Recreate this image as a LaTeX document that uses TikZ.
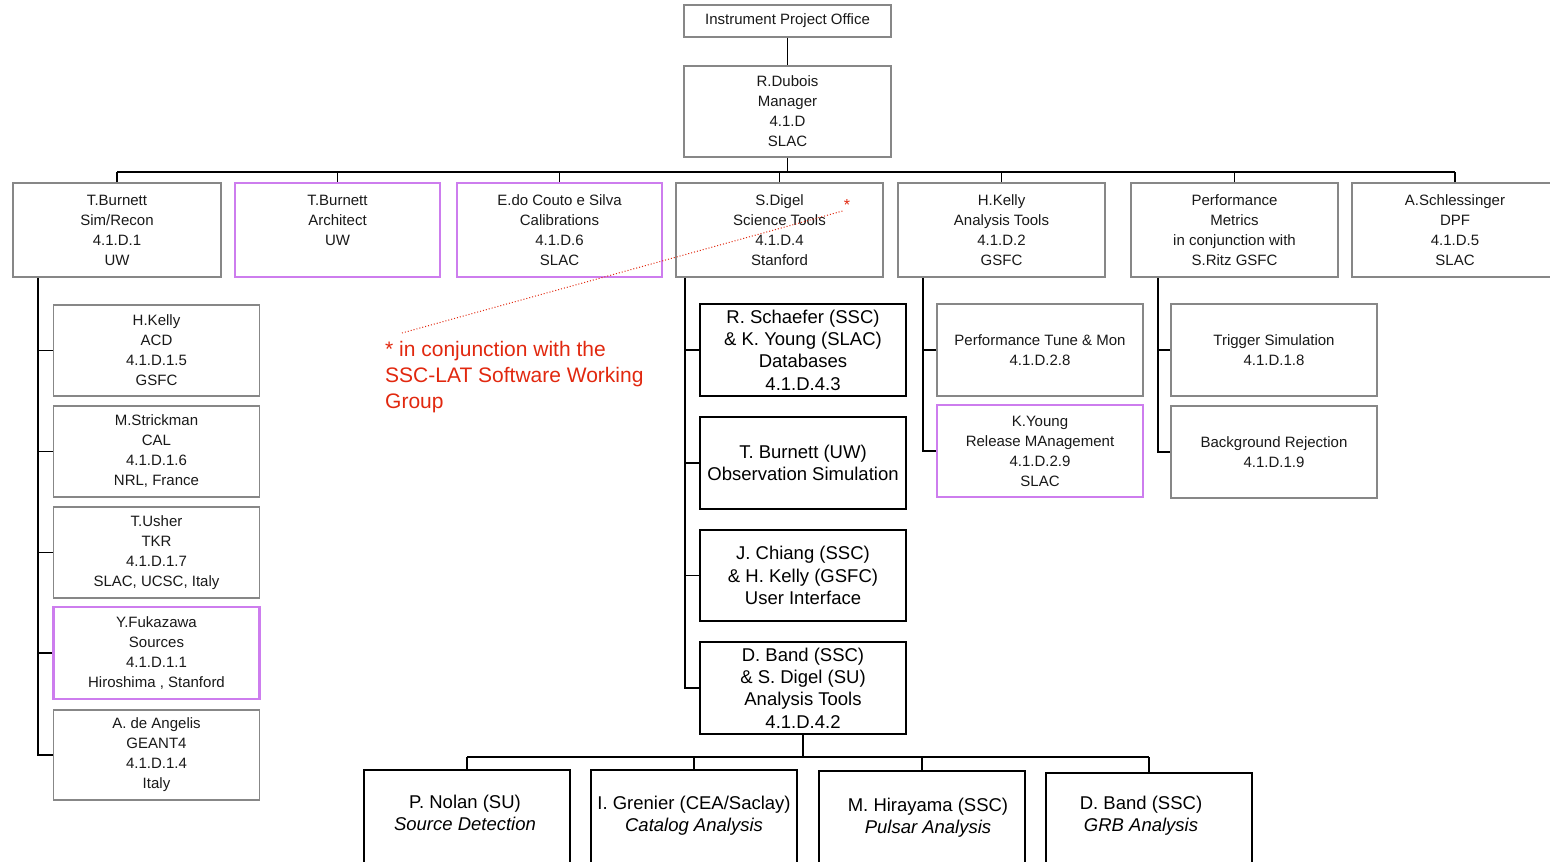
\documentclass[tikz,border=0pt]{standalone}
\usepackage{fontspec}
\setmainfont{Liberation Sans}
\definecolor{boxgray}{RGB}{135,135,135}
\definecolor{vio}{RGB}{205,125,238}
\definecolor{txtgray}{RGB}{25,25,25}
\definecolor{annred}{RGB}{225,40,15}
\begin{document}
\begin{tikzpicture}[x=1pt,y=-1pt,
  obox/.style={draw=boxgray, line width=1.8pt, fill=white, inner sep=0pt, align=center,
    text=txtgray, font=\fontsize{15}{20}\selectfont},
  vbox/.style={obox, draw=vio, line width=2.8pt},
  nbox/.style={draw=black, line width=1.6pt, fill=white, inner sep=0pt, align=center,
    font=\fontsize{18.5}{22.3}\selectfont},
  btxt/.style={inner sep=0pt, align=center, font=\fontsize{18.5}{22.3}\selectfont},
  conn/.style={draw=black, line width=1.8pt},
  topsz/.style={minimum width=#1, minimum height=94pt},
  subsz/.style={minimum width=206pt, minimum height=#1},
]
\useasboundingbox (0,0) rectangle (1550,862);

% top
\node[obox, minimum width=207pt, minimum height=32pt] (ipo) at (787.5,21) {Instrument Project Office};
\node[obox, minimum width=207pt, minimum height=91pt] (dub) at (787.5,111.5) {R.Dubois\\Manager\\4.1.D\\SLAC};

% first row
\node[obox, topsz=208pt] (t1) at (117,230) {T.Burnett\\Sim/Recon\\4.1.D.1\\UW};
\node[vbox, topsz=205pt] (t2) at (337.5,230) {T.Burnett\\Architect\\UW\\\mbox{}};
\node[vbox, topsz=205pt] (t3) at (559.5,230) {E.do Couto e Silva\\Calibrations\\4.1.D.6\\SLAC};
\node[obox, topsz=207pt] (t4) at (779.5,230) {S.Digel\\Science Tools\\4.1.D.4\\Stanford};
\node[obox, topsz=207pt] (t5) at (1001.5,230) {H.Kelly\\Analysis Tools\\4.1.D.2\\GSFC};
\node[obox, topsz=207pt] (t6) at (1234.5,230) {Performance\\Metrics\\in conjunction with\\S.Ritz GSFC};
\node[obox, topsz=206pt] (t7) at (1455,230) {A.Schlessinger\\DPF\\4.1.D.5\\SLAC};

\coordinate (bar) at (0,172);
\draw[conn] (ipo.south) -- (dub.north);
\draw[conn] (dub.south) -- (dub.south |- bar);
\draw[conn] (t1.north |- bar) -- (t7.north |- bar);
\foreach \n in {t1,t2,t3,t4,t5,t6,t7} \draw[conn] (\n.north) -- (\n.north |- bar);

% Sim/Recon children
\node[obox, subsz=91pt] (l1) at (156.5,350.5) {H.Kelly\\ACD\\4.1.D.1.5\\GSFC};
\node[obox, subsz=91pt] (l2) at (156.5,451.5) {M.Strickman\\CAL\\4.1.D.1.6\\NRL, France};
\node[obox, subsz=91pt] (l3) at (156.5,552.5) {T.Usher\\TKR\\4.1.D.1.7\\SLAC, UCSC, Italy};
\node[vbox, subsz=92pt] (l4) at (156.5,653) {Y.Fukazawa\\Sources\\4.1.D.1.1\\Hiroshima , Stanford};
\node[obox, subsz=90pt] (l5) at (156.5,755) {A. de Angelis\\GEANT4\\4.1.D.1.4\\Italy};
\coordinate (sL) at (38,0);
\draw[conn] (t1.south -| sL) |- (l5.west);
\foreach \n in {l1,l2,l3,l4} \draw[conn] (\n.west) -- (\n.west -| sL);

% Science Tools children
\node[nbox, subsz=92pt] (s1) at (803,350) {R. Schaefer (SSC)\\\& K. Young (SLAC)\\Databases\\4.1.D.4.3};
\node[nbox, subsz=92pt] (s2) at (803,463) {T. Burnett (UW)\\Observation Simulation};
\node[nbox, subsz=91pt] (s3) at (803,575.5) {J. Chiang (SSC)\\\& H. Kelly (GSFC)\\User Interface};
\node[nbox, subsz=92pt] (s4) at (803,688) {D. Band (SSC)\\\& S. Digel (SU)\\Analysis Tools\\4.1.D.4.2};
\coordinate (sS) at (685,0);
\draw[conn] (t4.south -| sS) |- (s4.west);
\foreach \n in {s1,s2,s3} \draw[conn] (\n.west) -- (\n.west -| sS);

% Analysis Tools children
\node[obox, subsz=92pt] (k1) at (1040,350) {Performance Tune \& Mon\\4.1.D.2.8};
\node[vbox, subsz=92pt] (k2) at (1040,451) {K.Young\\Release MAnagement\\4.1.D.2.9\\SLAC};
\coordinate (sK) at (923,0);
\draw[conn] (t5.south -| sK) |- (k2.west);
\draw[conn] (k1.west) -- (k1.west -| sK);

% Performance Metrics children
\node[obox, subsz=92pt] (p1) at (1274,350) {Trigger Simulation\\4.1.D.1.8};
\node[obox, subsz=92pt] (p2) at (1274,452) {Background Rejection\\4.1.D.1.9};
\coordinate (sP) at (1158,0);
\draw[conn] (t6.south -| sP) |- (p2.west);
\draw[conn] (p1.west) -- (p1.west -| sP);

% bottom row
\node[nbox, minimum width=206pt, minimum height=120pt] (b1) at (467,830) {};
\node[nbox, minimum width=206pt, minimum height=120pt] (b2) at (694,830) {};
\node[nbox, minimum width=206pt, minimum height=119pt] (b3) at (922,830.5) {};
\node[nbox, minimum width=206pt, minimum height=117pt] (b4) at (1149,831.5) {};
\node[btxt] (b1t) at (465,813) {P. Nolan (SU)\\\textit{Source Detection}};
\node[btxt] (b2t) at (694,816) {I. Grenier (CEA/Saclay)\\\textit{Catalog Analysis}};
\node[btxt] (b3t) at (928,818) {M. Hirayama (SSC)\\\textit{Pulsar Analysis}};
\node[btxt] (b4t) at (1141,816) {D. Band (SSC)\\\textit{GRB Analysis}};
\coordinate (bb) at (0,757);
\draw[conn] (s4.south) -- (s4.south |- bb);
\draw[conn] (b1.north |- bb) -- (b4.north |- bb);
\foreach \n in {b1,b2,b3,b4} \draw[conn] (\n.north) -- (\n.north |- bb);

% annotation
\node[inner sep=0pt, anchor=west, align=left, text=annred,
  font=\fontsize{21}{25.8}\selectfont] (ann) at (385,377)
  {* in conjunction with the\\SSC-LAT Software Working\\Group};
\node[inner sep=0pt, text=annred, font=\fontsize{16}{16}\selectfont] (ast) at (847,205) {*};
\coordinate (annS) at (402,333);
\draw[annred, line width=1pt, dotted] (annS) -- (ast.south west);
\end{tikzpicture}
\end{document}
